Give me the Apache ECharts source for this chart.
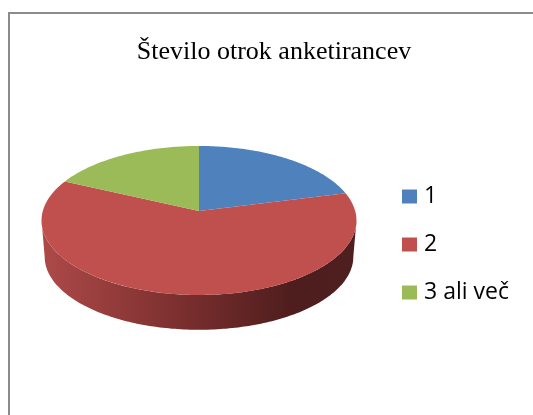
<!DOCTYPE html>
<html>
<head>
<meta charset="utf-8">
<script src="https://cdn.jsdelivr.net/npm/echarts@6/dist/echarts.min.js"></script>
<style>
  html, body { margin: 0; padding: 0; background: #ffffff; }
  #chart { width: 533px; height: 415px; }
</style>
</head>
<body>
<div id="chart"></div>
<script>
// Survey: number of children of the respondents
const titleText = 'Število otrok anketirancev';
const categories = ['1', '2', '3 ali več'];
const values = [21, 61, 18];
const colors = ['#4F81BD', '#C0504D', '#9BBB59'];

// Tilted-disc geometry (screen pixels)
const CX = 199, CY = 211;     // projected centre of the top face
const RX = 156.2, RY = 73.3;  // ellipse radii before perspective
const PERSP = 0.127;          // front-to-back perspective factor
const DEPTH = 36.5;           // thickness of the disc
const BOTTOM_SCALE = 0.98;    // bottom rim sits slightly further away

const total = values.reduce((a, b) => a + b, 0);

// angle measured clockwise from the back (12 o'clock), in degrees
function project(deg, scale, dy) {
  const r = deg * Math.PI / 180;
  const u = Math.sin(r), v = -Math.cos(r);
  const w = 1 - PERSP * v;
  return [CX + scale * RX * u / w, CY + dy + scale * RY * v / w];
}

function arc(a0, a1, scale, dy) {
  const pts = [];
  const n = Math.max(2, Math.ceil(Math.abs(a1 - a0)));
  for (let k = 0; k <= n; k++) pts.push(project(a0 + (a1 - a0) * k / n, scale, dy));
  return pts;
}

// front part of the rim that faces the viewer
const visLo = Math.acos(-PERSP) * 180 / Math.PI;
const visHi = 360 - visLo;

const sideGradient = new echarts.graphic.LinearGradient(0, 0, 1, 0, [
  { offset: 0, color: '#ad4a48' },
  { offset: 0.45, color: '#7a2e2e' },
  { offset: 0.8, color: '#4e1d1d' },
  { offset: 1, color: '#4f1e1e' }
]);

function sliceRenderer(i) {
  return function (params, api) {
    const before = values.slice(0, i).reduce((a, b) => a + b, 0);
    const a0 = before / total * 360;
    const a1 = (before + api.value(0)) / total * 360;
    const children = [];
    const s0 = Math.max(a0, visLo), s1 = Math.min(a1, visHi);
    if (s1 > s0) {
      const topRim = arc(s0, s1, 1, 0);
      const botRim = arc(s1, s0, BOTTOM_SCALE, DEPTH);
      children.push({
        type: 'polygon',
        shape: { points: topRim.concat(botRim) },
        style: { fill: sideGradient }
      });
    }
    children.push({
      type: 'polygon',
      shape: { points: [[CX, CY]].concat(arc(a0, a1, 1, 0)) },
      style: { fill: api.visual('color') }
    });
    return { type: 'group', children: children };
  };
}

const chart = echarts.init(document.getElementById('chart'), null, { renderer: 'canvas' });

chart.setOption({
  animation: false,
  title: {
    text: titleText,
    left: 274,
    textAlign: 'center',
    top: 39,
    padding: 0,
    textStyle: {
      fontFamily: 'Liberation Serif',
      fontSize: 26,
      fontWeight: 'normal',
      color: '#000000'
    }
  },
  legend: {
    orient: 'vertical',
    left: 402,
    top: 184.5,
    padding: 0,
    icon: 'rect',
    itemWidth: 15,
    itemHeight: 14,
    itemGap: 24,
    selectedMode: false,
    data: categories,
    textStyle: {
      fontFamily: 'Open Sans',
      fontSize: 23,
      lineHeight: 24,
      color: '#000000',
      padding: [0, 0, 0, 2]
    }
  },
  graphic: [{
    type: 'polyline',
    shape: { points: [[9, 430], [9, 13], [560, 13]] },
    style: { fill: null, stroke: '#8c8c8c', lineWidth: 2 },
    silent: true,
    z: -10
  }],
  series: categories.map((name, i) => ({
    type: 'custom',
    name: name,
    coordinateSystem: 'none',
    data: [values[i]],
    itemStyle: { color: colors[i] },
    renderItem: sliceRenderer(i)
  }))
});
</script>
</body>
</html>
